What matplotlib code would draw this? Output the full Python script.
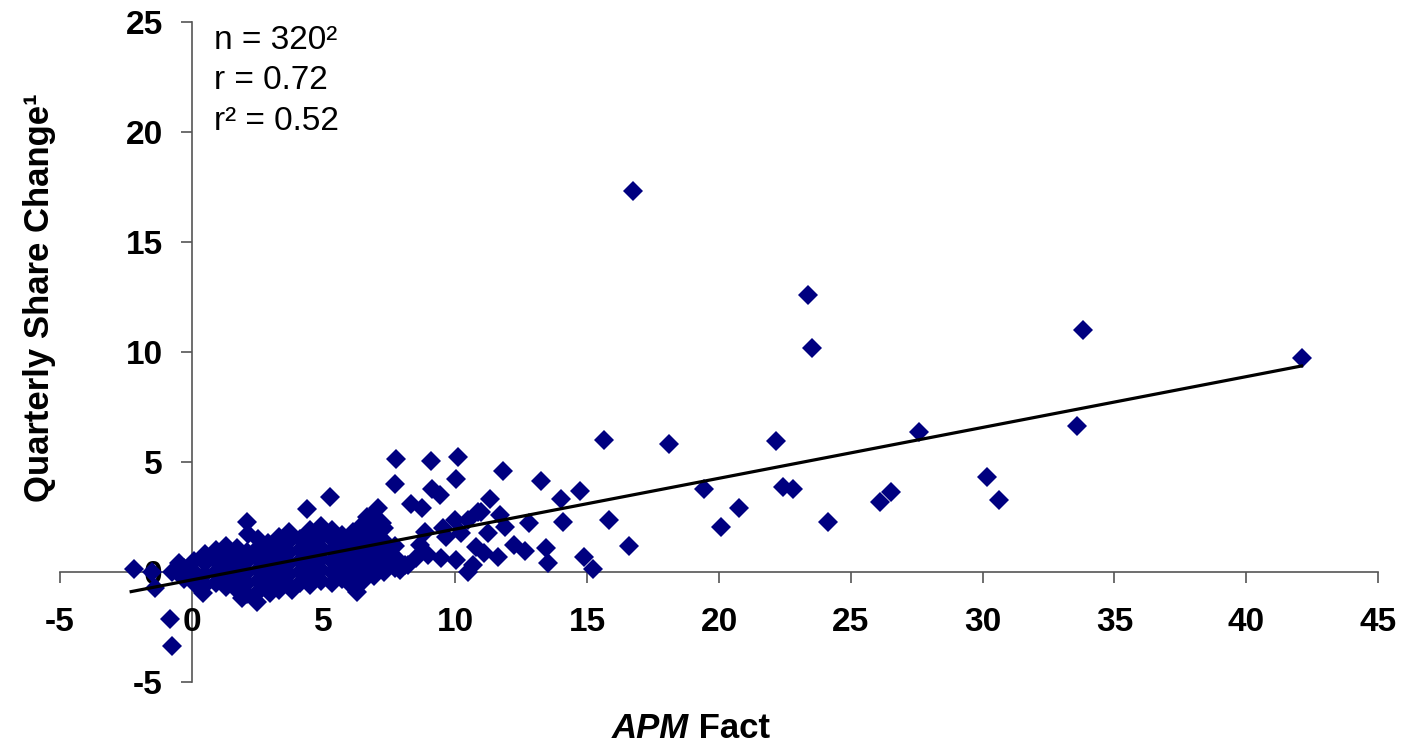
import numpy as np
import matplotlib
matplotlib.use("Agg")
from matplotlib import pyplot as plt

plt.rcParams['font.family'] = ['Liberation Sans', 'DejaVu Sans']
plt.rcParams['axes.unicode_minus'] = False

# scattered points (APM Fact, quarterly share change)
outer_points = [
    (16.74, 17.32), (23.37, 12.59), (23.52, 10.18), (33.79, 11.0), (42.1, 9.73),
    (27.6, 6.36), (33.6, 6.64), (22.16, 5.95), (15.64, 6.0), (18.1, 5.82),
    (19.43, 3.77), (22.42, 3.86), (22.8, 3.77), (20.76, 2.91), (20.08, 2.05),
    (24.13, 2.27), (26.1, 3.18), (26.52, 3.64), (30.15, 4.32), (30.64, 3.27),
    (15.83, 2.36), (16.59, 1.18),
    (11.8, 4.59), (13.26, 4.14), (14.71, 3.68), (14.02, 3.30), (11.3, 3.30),
    (10.98, 2.74), (11.68, 2.59), (11.89, 2.06), (12.81, 2.24), (14.1, 2.29),
    (11.24, 1.79), (11.1, 0.86), (12.21, 1.23), (12.65, 0.95), (11.62, 0.67),
    (13.45, 1.08), (13.51, 0.39), (14.87, 0.70), (15.21, 0.12),
    (7.74, 5.14), (9.07, 5.05), (10.1, 5.24), (7.70, 3.98), (10.04, 4.23),
    (9.13, 3.76), (9.41, 3.5), (8.31, 3.08), (8.75, 2.89), (6.82, 2.59),
    (7.07, 2.89), (7.2, 2.23), (6.93, 1.91), (10.86, 2.74), (9.97, 2.36),
    (10.48, 2.36), (9.53, 1.99), (10.23, 1.76), (8.84, 1.83), (9.66, 1.61),
    (8.65, 1.23), (8.52, 0.62), (8.96, 0.77), (9.47, 0.62), (10.04, 0.55),
    (10.8, 1.15), (10.67, 0.32), (10.48, 0.02), (8.2, 0.3), (7.9, 0.1),
    (5.24, 3.42), (4.38, 2.85), (6.63, 2.52), (2.08, 2.27), (2.12, 1.73),
    (-2.21, 0.14), (-0.82, -2.14), (-0.76, -3.36), (-1.39, -0.74), (-0.5, 0.39),
    (0.44, -0.97), (1.89, -1.18), (2.46, -1.36), (2.97, -0.97), (3.79, -0.82),
    (6.25, -0.89), (-0.76, 0.02), (-1.5, 0.01),
]

# dense core near the origin: APM Fact value -> share changes at that value
core_columns = {
    -0.3: [-0.3, 0.2],
    0.1: [-0.5, 0.0, 0.5],
    0.5: [-0.6, -0.1, 0.4, 0.8],
    0.9: [-0.5, 0.0, 0.5, 1.0],
    1.3: [-0.7, -0.2, 0.3, 0.8, 1.2],
    1.7: [-0.8, -0.3, 0.2, 0.7, 1.1],
    2.1: [-1.0, -0.5, 0.0, 0.5, 0.9],
    2.5: [-0.9, -0.4, 0.1, 0.6, 1.1, 1.5],
    2.9: [-0.7, -0.2, 0.3, 0.8, 1.3],
    3.3: [-0.8, -0.3, 0.2, 0.7, 1.2, 1.6],
    3.7: [-0.6, -0.1, 0.4, 0.9, 1.4, 1.8],
    4.1: [-0.5, 0.0, 0.5, 1.0, 1.5],
    4.5: [-0.6, -0.1, 0.4, 0.9, 1.4, 1.9],
    4.9: [-0.4, 0.1, 0.6, 1.1, 1.6, 2.1],
    5.3: [-0.5, 0.0, 0.5, 1.0, 1.5, 1.9],
    5.7: [-0.3, 0.2, 0.7, 1.2, 1.7],
    6.1: [-0.7, -0.2, 0.3, 0.8, 1.3, 1.8],
    6.5: [-0.4, 0.1, 0.6, 1.1, 1.6, 2.2],
    6.9: [-0.2, 0.3, 0.8, 1.3, 1.7, 2.5],
    7.3: [0.0, 0.4, 0.9, 1.4, 2.0],
    7.7: [0.2, 0.7, 1.2],
    8.1: [0.3],
}

# trend line as drawn in the original
trend_slope = 0.231
trend_intercept = -0.36
trend_x = [-2.3, 42.1]

stats_lines = ["n = 320\u00b2", "r = 0.72", "r\u00b2 = 0.52"]

apm = [p[0] for p in outer_points]
share = [p[1] for p in outer_points]
for x, ys in core_columns.items():
    apm += [x] * len(ys)
    share += ys

W, H = 1402, 748
fig = plt.figure(figsize=(W / 100, H / 100), dpi=100)
ax = fig.add_axes([60 / W, 66 / H, 1318 / W, 660 / H])

navy = '#000080'
ax.plot(apm, share, linestyle='none', marker='D', markersize=9.8,
        color=navy, markeredgewidth=0, zorder=2)

tx = np.array(trend_x)
ax.plot(tx, trend_slope * tx + trend_intercept, color='black', lw=2.3, zorder=2.2)

ax.set_xlim(-5, 45)
ax.set_ylim(-5, 25)
ax.set_xticks(np.arange(-5, 46, 5))
ax.set_yticks(np.arange(-5, 26, 5))

for side in ('top', 'right'):
    ax.spines[side].set_visible(False)
ax.spines['left'].set_position(('data', 0))
ax.spines['bottom'].set_position(('data', 0))
for side in ('left', 'bottom'):
    ax.spines[side].set_color('#555555')
    ax.spines[side].set_linewidth(1.2)
    ax.spines[side].set_zorder(1)

ax.tick_params(axis='both', direction='out', length=8, width=1.2, color='#555555',
               labelsize=24)
ax.tick_params(axis='y', pad=13)
ax.tick_params(axis='x', pad=17)
for lab in ax.get_xticklabels() + ax.get_yticklabels():
    lab.set_fontweight('bold')

for i, line in enumerate(stats_lines):
    ax.text(0.83, 24.18 - 1.86 * i, line, fontsize=24, ha='left', va='center')

fig.text(40 / W, 1 - 298 / H, "Quarterly Share Change\u00b9", rotation=90,
         fontsize=25, fontweight='bold', ha='center', va='center')

t1 = fig.text(612 / W, 1 - 748 / H + 0.004, "APM", fontsize=25, fontweight='bold',
              fontstyle='italic', ha='left', va='bottom')
ax.annotate(" Fact", xy=(1, 0), xycoords=t1, fontsize=25, fontweight='bold',
            ha='left', va='bottom', annotation_clip=False)

fig.savefig("out.png", dpi=100)
